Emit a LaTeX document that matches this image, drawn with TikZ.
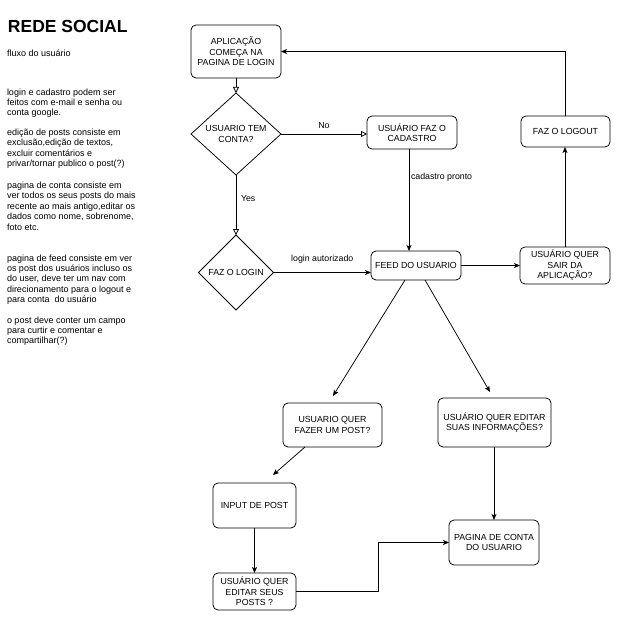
\documentclass[tikz,border=0pt]{standalone}
\usepackage{fontspec}
\setmainfont{Liberation Sans}
\usetikzlibrary{shapes.geometric,arrows.meta}
\begin{document}
\begin{tikzpicture}[x=1pt,y=-1pt,
  every node/.style={inner sep=0pt,outer sep=0pt},
  box/.style={draw,rounded corners=5pt,line width=0.75pt,align=center,font=\fontsize{8.8}{10.5}\selectfont},
  dia/.style={draw,diamond,line width=0.75pt,align=center,font=\fontsize{8.8}{10.5}\selectfont},
  lbl/.style={font=\fontsize{8.8}{10.5}\selectfont},
  note/.style={align=left,anchor=base west,font=\fontsize{9}{10.4}\selectfont},
  con/.style={line width=0.75pt},
  arr/.style={con,-{Stealth[length=6pt,width=5pt,inset=1.5pt]}},
  oarr/.style={con,-{Triangle[open,length=6pt,width=6pt]}}]
\useasboundingbox (0,0) rectangle (619,621);
\fill[white] (0,0) rectangle (619,621);

% left notes (anchor = baseline of the last line)
\node[anchor=base west,font=\fontsize{17.5}{20}\selectfont\bfseries] (title) at (8,32) {REDE SOCIAL};
\node[note] (fluxo) at (7,56) {fluxo do usuário};
\node[note] (n1) at (7,115.8) {login e cadastro podem ser\\feitos com e-mail e senha ou\\conta google.};
\node[note] (n2) at (7,166.7) {edição de posts consiste em\\exclusão,edição de textos,\\excluir comentários e\\privar/tornar publico o post(?)};
\node[note] (n3) at (7,230.1) {pagina de conta consiste em\\ver todos os seus posts do mais\\recente ao mais antigo,editar os\\dados como nome, sobrenome,\\foto etc.};
\node[note] (n4) at (7,302.6) {pagina de feed consiste em ver\\os post dos usuários incluso os\\do user, deve ter um nav com\\direcionamento para o logout e\\para conta \ do usuário};
\node[note] (n5) at (7,343.8) {o post deve conter um campo\\para curtir e comentar e\\compartilhar(?)};

% flowchart nodes
\node[box,minimum width=90pt,minimum height=53pt] (app) at (236,51.5) {APLICAÇÃO\\COMEÇA NA\\PAGINA DE LOGIN};
\node[dia,minimum width=90pt,minimum height=82pt] (q1) at (236,134) {USUARIO TEM\\CONTA?};
\node[box,minimum width=90pt,minimum height=33pt] (cad) at (412,132.5) {USUÁRIO FAZ O\\CADASTRO};
\node[box,minimum width=89pt,minimum height=31pt] (logout) at (565.5,131.5) {FAZ O LOGOUT};
\node[dia,minimum width=75pt,minimum height=75pt] (login) at (236,272.5) {FAZ O LOGIN};
\node[box,minimum width=90pt,minimum height=29pt] (feed) at (416,265.5) {FEED DO USUARIO};
\node[box,minimum width=90pt,minimum height=37pt] (sair) at (565,265.5) {USUÁRIO QUER\\SAIR DA\\APLICAÇÃO?};
\node[box,minimum width=99pt,minimum height=44pt] (post) at (332.5,425) {USUARIO QUER\\FAZER UM POST?};
\node[box,minimum width=113pt,minimum height=49pt] (edit) at (494.5,422.5) {USUÁRIO QUER EDITAR\\SUAS INFORMAÇÕES?};
\node[box,minimum width=83pt,minimum height=45pt] (input) at (254.5,505.5) {INPUT DE POST};
\node[box,minimum width=83pt,minimum height=37pt] (eposts) at (254.5,591.5) {USUÁRIO QUER\\EDITAR SEUS\\POSTS ?};
\node[box,minimum width=90pt,minimum height=45pt] (conta) at (494,542.5) {PAGINA DE CONTA\\DO USUARIO};

% helper coordinates
\coordinate (cx) at (409,0);
\coordinate (fl) at (405,0);
\coordinate (fr) at (425,0);
\coordinate (px) at (305,0);
\coordinate (tpost) at (333,396);
\coordinate (tedit) at (490,392);
\coordinate (tinput) at (273,475);
\coordinate (bend) at (378,0);

% connectors
\draw[oarr] (app) -- (q1);
\draw[oarr] (q1.east) -- (q1.east -| cad.west) node[lbl,pos=0.5,above=5pt] {No};
\draw[oarr] (q1.south) -- (login.north) node[lbl,pos=0.4,right=5pt] {Yes};
\draw[arr] (cad.south -| cx) -- (feed.north -| cx) node[lbl,pos=0.28,right=2pt] {cadastro pronto};
\draw[arr] (login.east) -- (login.east -| feed.west) node[lbl,pos=0.5,above=9pt] {login autorizado};
\draw[arr] (feed.east) -- (sair.west);
\draw[arr] (sair.north) -- (sair.north |- logout.south);
\draw[arr] (logout.north) |- (app.east);
\draw[arr] (feed.south -| fl) -- (tpost);
\draw[arr] (feed.south -| fr) -- (tedit);
\draw[arr] (post.south -| px) -- (tinput);
\draw[arr] (input.south) -- (eposts.north);
\draw[arr] (edit.south -| conta.north) -- (conta.north);
\draw[arr] (eposts.east) -- (eposts.east -| bend) |- (conta.west);
\end{tikzpicture}
\end{document}
